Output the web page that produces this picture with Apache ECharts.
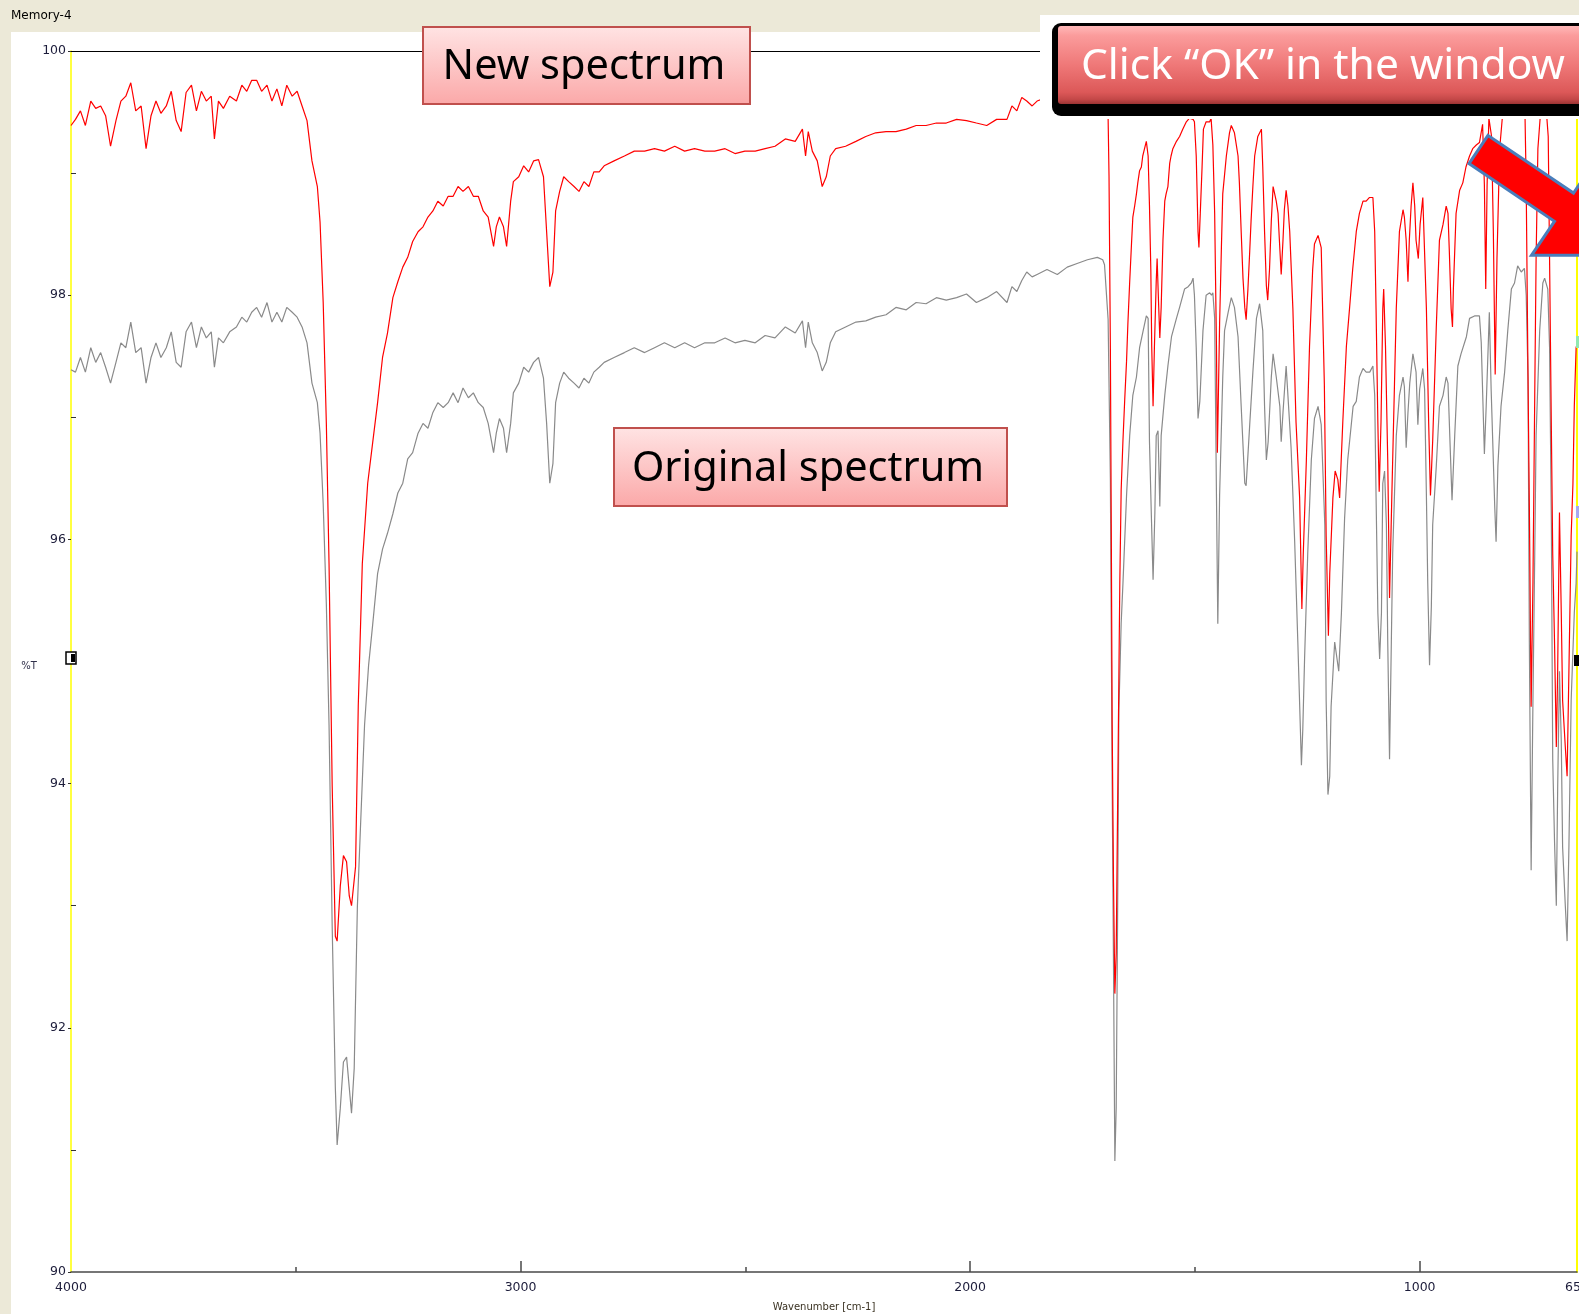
<!DOCTYPE html>
<html>
<head>
<meta charset="utf-8">
<script src="https://cdn.jsdelivr.net/npm/echarts@6/dist/echarts.min.js"></script>
<style>
html,body{margin:0;padding:0;background:#fff;}
#chart{width:1579px;height:1314px;}
</style>
</head>
<body>
<div id="chart"></div>
<script>
// ---- data (wavenumber cm-1, %T) ----
const originalSpectrum = [
[4000,97.39],[3990,97.37],[3979,97.49],[3968,97.37],[3956,97.57],[3945,97.45],[3934,97.53],[3923,97.41],[3912,97.28],[3900,97.45],[3889,97.61],[3878,97.57],[3867,97.78],[3856,97.53],[3844,97.57],[3833,97.28],[3822,97.49],[3811,97.61],[3800,97.49],[3788,97.57],[3777,97.70],[3766,97.45],[3755,97.41],[3744,97.70],[3732,97.78],[3721,97.57],[3710,97.74],[3699,97.65],[3688,97.70],[3681,97.41],[3672,97.65],[3661,97.61],[3647,97.70],[3632,97.74],[3620,97.82],[3609,97.78],[3598,97.86],[3587,97.90],[3576,97.82],[3564,97.94],[3553,97.78],[3542,97.86],[3531,97.78],[3520,97.90],[3508,97.86],[3497,97.82],[3486,97.74],[3475,97.61],[3464,97.28],[3452,97.12],[3446,96.87],[3439,96.29],[3432,95.47],[3426,94.48],[3419,92.83],[3412,91.51],[3408,91.04],[3401,91.34],[3394,91.72],[3387,91.76],[3381,91.51],[3376,91.30],[3370,91.67],[3363,92.99],[3356,93.65],[3347,94.48],[3338,94.97],[3329,95.30],[3318,95.72],[3307,95.92],[3296,96.05],[3284,96.21],[3273,96.38],[3262,96.46],[3251,96.66],[3240,96.71],[3228,96.87],[3217,96.95],[3206,96.91],[3195,97.04],[3184,97.12],[3172,97.08],[3161,97.12],[3150,97.20],[3139,97.12],[3128,97.24],[3116,97.16],[3105,97.20],[3094,97.12],[3083,97.08],[3072,96.95],[3060,96.71],[3054,96.87],[3047,96.99],[3038,96.91],[3031,96.71],[3022,96.95],[3016,97.20],[3004,97.28],[2993,97.41],[2982,97.37],[2971,97.45],[2960,97.49],[2949,97.32],[2942,96.95],[2935,96.46],[2928,96.62],[2922,97.12],[2913,97.28],[2904,97.37],[2893,97.32],[2881,97.28],[2870,97.24],[2859,97.32],[2848,97.28],[2837,97.37],[2825,97.41],[2814,97.45],[2792,97.49],[2769,97.53],[2747,97.57],[2724,97.53],[2702,97.57],[2680,97.61],[2657,97.57],[2635,97.61],[2613,97.57],[2590,97.61],[2568,97.61],[2545,97.65],[2523,97.61],[2501,97.63],[2478,97.61],[2456,97.67],[2434,97.65],[2411,97.74],[2389,97.69],[2373,97.79],[2366,97.57],[2360,97.78],[2351,97.61],[2340,97.53],[2329,97.38],[2320,97.45],[2311,97.61],[2299,97.70],[2277,97.74],[2254,97.78],[2232,97.79],[2210,97.82],[2187,97.84],[2165,97.90],[2142,97.88],[2120,97.94],[2098,97.93],[2075,97.98],[2053,97.96],[2030,97.98],[2008,98.01],[1986,97.94],[1963,97.98],[1941,98.03],[1918,97.94],[1907,98.07],[1896,98.03],[1885,98.12],[1874,98.19],[1862,98.15],[1851,98.17],[1829,98.21],[1806,98.17],[1784,98.23],[1762,98.26],[1739,98.29],[1717,98.31],[1705,98.29],
[1701,98.25],[1693,97.80],[1688,96.5],[1684,94.0],[1681,92.5],[1678,90.91],[1675,91.35],[1672,92.85],[1669,94.6],[1664,95.31],[1660,95.64],[1652,96.36],[1645,96.85],[1638,97.18],[1630,97.33],[1623,97.57],[1615,97.71],[1608,97.83],[1604,97.81],[1601,96.80],[1597,96.22],[1593,95.67],[1589,96.22],[1586,96.85],[1582,96.89],[1578,96.27],[1575,96.85],[1567,97.18],[1560,97.42],[1552,97.66],[1541,97.81],[1534,97.90],[1523,98.05],[1515,98.07],[1508,98.10],[1504,98.14],[1501,98.0],[1497,97.57],[1493,96.99],[1489,97.13],[1482,97.71],[1475,98.0],[1467,98.02],[1463,98.0],[1460,98.02],[1456,97.81],[1452,96.36],[1449,95.31],[1445,96.36],[1438,97.33],[1434,97.71],[1426,97.86],[1419,97.98],[1412,97.90],[1404,97.66],[1397,97.09],[1389,96.46],[1386,96.44],[1378,96.94],[1371,97.37],[1363,97.81],[1356,97.93],[1349,97.71],[1345,97.09],[1341,96.65],[1337,96.80],[1330,97.33],[1326,97.52],[1319,97.33],[1311,97.09],[1308,96.80],[1304,97.04],[1297,97.42],[1293,97.42],[1286,96.75],[1278,95.98],[1271,95.16],[1263,94.15],[1260,94.44],[1256,95.02],[1249,95.88],[1241,96.65],[1234,96.99],[1226,97.09],[1219,96.94],[1211,96.12],[1208,94.68],[1204,93.91],[1200,94.06],[1197,94.63],[1189,95.16],[1186,95.16],[1180,94.92],[1174,95.40],[1167,96.17],[1160,96.65],[1148,97.09],[1141,97.13],[1134,97.33],[1126,97.40],[1119,97.37],[1111,97.37],[1104,97.42],[1100,97.18],[1097,96.36],[1093,95.40],[1089,95.02],[1085,95.40],[1082,96.46],[1078,96.56],[1074,96.12],[1071,95.16],[1067,94.20],[1063,95.16],[1060,95.88],[1052,96.85],[1045,97.18],[1037,97.33],[1034,97.25],[1030,96.75],[1026,97.04],[1022,97.28],[1015,97.52],[1008,97.37],[1004,96.94],[1000,97.23],[993,97.40],[989,97.23],[985,96.36],[982,95.64],[978,94.97],[974,95.45],[971,96.12],[963,96.60],[956,97.09],[948,97.18],[941,97.33],[937,97.28],[933,96.85],[928,96.32],[922,96.85],[915,97.42],[908,97.52],[896,97.66],[889,97.81],[878,97.83],[867,97.83],[863,97.61],[856,96.70],[852,97.09],[845,97.86],[841,97.23],[833,96.27],[830,95.98],[826,96.60],[819,97.09],[811,97.37],[804,97.71],[796,98.05],[789,98.10],[782,98.24],[774,98.19],[767,98.22],[763,98.0],[759,97.33],[756,95.16],[752,93.29],[748,94.68],[744,95.88],[741,96.85],[733,97.71],[726,98.10],[722,98.14],[715,98.05],[711,97.57],[707,96.12],[704,94.20],[700,93.53],[696,93.0],[693,93.96],[689,94.92],[685,94.35],[682,93.48],[676,93.0],[672,92.71],[668,93.48],[663,94.68],[656,95.40],[652,95.64],[650,95.9]
];

const newSpectrum = [
[4000,99.39],[3990,99.44],[3979,99.51],[3968,99.39],[3956,99.59],[3945,99.53],[3934,99.55],[3923,99.47],[3912,99.22],[3900,99.43],[3889,99.59],[3878,99.63],[3867,99.74],[3856,99.51],[3844,99.55],[3833,99.20],[3822,99.47],[3811,99.59],[3800,99.49],[3788,99.55],[3777,99.67],[3766,99.43],[3755,99.34],[3744,99.66],[3732,99.72],[3721,99.51],[3710,99.67],[3699,99.59],[3688,99.63],[3681,99.28],[3672,99.59],[3661,99.53],[3647,99.63],[3632,99.59],[3620,99.72],[3609,99.67],[3598,99.76],[3587,99.76],[3576,99.67],[3564,99.72],[3553,99.59],[3542,99.69],[3531,99.55],[3520,99.72],[3508,99.63],[3497,99.67],[3486,99.55],[3475,99.43],[3464,99.10],[3452,98.89],[3446,98.60],[3439,97.94],[3432,96.95],[3426,95.80],[3419,93.98],[3412,92.75],[3408,92.71],[3401,93.16],[3394,93.41],[3387,93.36],[3381,93.08],[3376,93.0],[3367,93.32],[3361,94.64],[3352,95.80],[3340,96.46],[3329,96.79],[3318,97.12],[3307,97.49],[3296,97.69],[3284,97.98],[3273,98.11],[3262,98.23],[3251,98.31],[3240,98.44],[3228,98.52],[3217,98.56],[3206,98.64],[3195,98.69],[3184,98.77],[3172,98.73],[3161,98.81],[3150,98.81],[3139,98.89],[3128,98.85],[3116,98.89],[3105,98.81],[3094,98.81],[3083,98.69],[3072,98.64],[3060,98.40],[3054,98.56],[3047,98.64],[3038,98.56],[3031,98.40],[3022,98.77],[3016,98.93],[3004,98.97],[2993,99.06],[2982,99.01],[2971,99.10],[2960,99.11],[2949,98.97],[2942,98.52],[2935,98.07],[2928,98.19],[2922,98.69],[2913,98.85],[2904,98.97],[2893,98.93],[2881,98.89],[2870,98.85],[2859,98.93],[2848,98.89],[2837,99.01],[2825,99.01],[2814,99.06],[2792,99.10],[2769,99.14],[2747,99.18],[2724,99.18],[2702,99.20],[2680,99.18],[2657,99.22],[2635,99.18],[2613,99.20],[2590,99.18],[2568,99.18],[2545,99.20],[2523,99.16],[2501,99.18],[2478,99.18],[2456,99.20],[2434,99.22],[2411,99.28],[2389,99.26],[2373,99.36],[2366,99.14],[2360,99.34],[2351,99.18],[2340,99.10],[2329,98.89],[2320,98.97],[2311,99.14],[2299,99.20],[2277,99.22],[2254,99.26],[2232,99.30],[2210,99.33],[2187,99.34],[2165,99.34],[2142,99.36],[2120,99.39],[2098,99.39],[2075,99.41],[2053,99.41],[2030,99.44],[2008,99.43],[1986,99.41],[1963,99.39],[1941,99.44],[1918,99.44],[1907,99.55],[1896,99.51],[1885,99.62],[1874,99.59],[1862,99.55],[1851,99.59],[1829,99.62],[1806,99.60],[1784,99.64],[1762,99.63],[1739,99.66],[1717,99.62],[1700,99.55],
[1693,99.45],[1691,98.98],[1688,97.58],[1686,96.12],[1684,94.49],[1681,93.19],[1678,92.28],[1675,92.61],[1671,94.15],[1667,95.64],[1664,96.4],[1660,96.81],[1656,97.15],[1652,97.46],[1649,97.77],[1645,98.11],[1641,98.42],[1638,98.64],[1634,98.73],[1630,98.83],[1627,98.92],[1623,99.02],[1619,99.05],[1616,99.14],[1612,99.20],[1608,99.26],[1604,99.14],[1601,98.73],[1598,98.21],[1596,97.58],[1593,97.09],[1590,97.58],[1586,98.11],[1584,98.30],[1581,97.96],[1578,97.65],[1575,97.90],[1571,98.45],[1567,98.77],[1564,98.83],[1560,98.89],[1556,99.08],[1553,99.14],[1549,99.20],[1541,99.26],[1534,99.30],[1527,99.36],[1519,99.42],[1512,99.45],[1504,99.44],[1501,99.42],[1497,99.14],[1493,98.52],[1491,98.39],[1488,98.67],[1484,99.05],[1481,99.36],[1475,99.42],[1467,99.42],[1464,99.45],[1460,99.23],[1456,98.67],[1452,97.58],[1450,96.71],[1448,97.12],[1445,97.77],[1441,98.39],[1438,98.83],[1430,99.14],[1423,99.33],[1419,99.39],[1412,99.33],[1404,99.14],[1401,98.92],[1397,98.52],[1393,98.14],[1389,97.90],[1386,97.80],[1382,98.05],[1378,98.36],[1375,98.61],[1371,98.89],[1367,99.14],[1360,99.30],[1352,99.36],[1349,99.05],[1345,98.52],[1341,98.08],[1338,97.96],[1334,98.21],[1330,98.61],[1326,98.89],[1319,98.77],[1315,98.67],[1312,98.45],[1308,98.17],[1304,98.45],[1301,98.70],[1297,98.86],[1293,98.73],[1289,98.52],[1282,97.89],[1275,96.96],[1267,96.34],[1262,95.43],[1259,95.87],[1252,96.65],[1245,97.58],[1238,98.21],[1234,98.42],[1226,98.49],[1219,98.39],[1212,97.27],[1208,96.03],[1203,95.21],[1200,95.72],[1193,96.34],[1188,96.56],[1182,96.49],[1178,96.34],[1171,96.96],[1163,97.58],[1156,97.89],[1149,98.21],[1141,98.52],[1134,98.67],[1126,98.77],[1119,98.77],[1112,98.80],[1104,98.80],[1100,98.52],[1097,97.89],[1093,96.96],[1090,96.39],[1086,96.96],[1082,97.89],[1080,98.05],[1076,97.58],[1071,96.65],[1067,95.52],[1062,96.34],[1056,97.27],[1052,97.89],[1045,98.52],[1037,98.70],[1034,98.64],[1030,98.45],[1026,98.11],[1023,98.45],[1019,98.73],[1015,98.92],[1011,98.73],[1008,98.45],[1003,98.30],[999,98.58],[993,98.80],[985,97.89],[980,96.96],[976,96.36],[971,96.81],[963,97.74],[956,98.45],[948,98.58],[941,98.73],[937,98.67],[934,98.36],[930,97.89],[927,97.74],[925,98.05],[919,98.67],[911,98.86],[904,98.92],[897,99.05],[889,99.14],[882,99.20],[874,99.23],[867,99.25],[860,99.40],[856,98.90],[853,98.05],[850,98.90],[846,99.45],[840,99.30],[836,98.50],[832,97.35],[828,98.30],[822,99.20],[815,99.50],[805,99.60],[795,99.65],[785,99.60],[775,99.65],[766,99.55],[763,98.90],[759,97.33],[756,96.27],[752,94.63],[748,95.64],[744,97.18],[741,98.29],[737,99.20],[730,99.55],[720,99.60],[714,99.30],[711,98.29],[707,96.89],[704,95.88],[700,95.16],[696,94.30],[693,94.92],[689,96.22],[685,95.40],[682,94.68],[676,94.30],[672,94.06],[668,94.92],[663,96.03],[659,96.46],[656,97.09],[652,97.57],[650,97.60]
];

const xLabelValues = [4000, 3000, 2000, 1000, 650];
const xMajorTicks = [3000, 2000, 1000];
const xMinorTicks = [3500, 2500, 1500];
const yMinorTicks = [91, 93, 95, 97, 99];

// ---- chart ----
const chart = echarts.init(document.getElementById('chart'), null, {renderer: 'canvas'});
const labelFont = 'DejaVu Sans';
const beige = '#ECE9D8';
const plain = v => String(v);

const option = {
  animation: false,
  backgroundColor: '#ffffff',
  grid: {left: 71, right: 2, top: 51, bottom: 42, containLabel: false, outerBoundsMode: 'none'},
  xAxis: [
    {
      type: 'value', position: 'bottom', inverse: true, min: 650, max: 4000,
      splitLine: {show: false},
      axisLine: {show: true, onZero: false, lineStyle: {color: '#4a4a4a', width: 1.5}},
      axisTick: {show: true, inside: true, length: 11, customValues: xMajorTicks, lineStyle: {color: '#4a4a4a', width: 1.5}},
      axisLabel: {show: true, customValues: xLabelValues, formatter: plain, margin: 9, fontFamily: labelFont, fontSize: 12.5, color: '#1c1c3a', hideOverlap: false},
      name: 'Wavenumber [cm-1]', nameLocation: 'middle', nameGap: 30,
      nameTextStyle: {fontFamily: labelFont, fontSize: 10, color: '#3a3222'}
    },
    {
      type: 'value', position: 'bottom', inverse: true, min: 650, max: 4000,
      splitLine: {show: false},
      axisLine: {show: false, onZero: false},
      axisTick: {show: true, inside: true, length: 5, customValues: xMinorTicks, lineStyle: {color: '#4a4a4a', width: 1.5}},
      axisLabel: {show: false}
    },
    {
      type: 'value', position: 'top', inverse: true, min: 650, max: 4000,
      splitLine: {show: false},
      axisLine: {show: true, onZero: false, lineStyle: {color: '#000000', width: 1}},
      axisTick: {show: false}, axisLabel: {show: false}
    }
  ],
  yAxis: [
    {
      type: 'value', position: 'left', min: 90, max: 100, interval: 2,
      splitLine: {show: false},
      axisLine: {show: true, onZero: false, lineStyle: {color: '#FFFF00', width: 1.5}},
      axisTick: {show: true, inside: false, length: 3, lineStyle: {color: '#333333', width: 1}},
      axisLabel: {show: true, formatter: plain, margin: 5, fontFamily: labelFont, fontSize: 12.5, color: '#1c1c3a'}
    },
    {
      type: 'value', position: 'left', min: 90, max: 100, interval: 1,
      splitLine: {show: false},
      axisLine: {show: false, onZero: false},
      axisTick: {show: true, inside: true, length: 5, customValues: yMinorTicks, lineStyle: {color: '#333333', width: 1}},
      axisLabel: {show: false}
    },
    {
      type: 'value', position: 'right', min: 90, max: 100,
      splitLine: {show: false},
      axisLine: {show: true, onZero: false, lineStyle: {color: '#FFFF00', width: 2}},
      axisTick: {show: false}, axisLabel: {show: false}
    }
  ],
  series: [
    {
      name: 'Original spectrum', type: 'line', xAxisIndex: 0, yAxisIndex: 0,
      data: originalSpectrum, showSymbol: false, symbol: 'none', smooth: false,
      lineStyle: {color: '#8a8a8a', width: 1.2}, z: 3
    },
    {
      name: 'New spectrum', type: 'line', xAxisIndex: 0, yAxisIndex: 0,
      data: newSpectrum, showSymbol: false, symbol: 'none', smooth: false,
      lineStyle: {color: '#ff0000', width: 1.2}, z: 4
    }
  ],
  graphic: {
    elements: [
      // window frame (beige)
      {type: 'rect', shape: {x: 0, y: 0, width: 11, height: 1314}, style: {fill: beige}, z: 50, silent: true},
      {type: 'rect', shape: {x: 0, y: 0, width: 1040, height: 32}, style: {fill: beige}, z: 50, silent: true},
      {type: 'rect', shape: {x: 1040, y: 0, width: 539, height: 15}, style: {fill: beige}, z: 50, silent: true},
      {type: 'text', style: {text: 'Memory-4', x: 11, y: 16, font: '12px "DejaVu Sans"', fill: '#000', textVerticalAlign: 'middle'}, z: 51},
      {type: 'text', style: {text: '%T', x: 29, y: 666, font: '10px "DejaVu Sans"', fill: '#30304a', textAlign: 'center', textVerticalAlign: 'middle'}, z: 51},
      // cursor markers
      {type: 'rect', shape: {x: 66, y: 652, width: 10, height: 12}, style: {fill: '#fff', stroke: '#000', lineWidth: 1.5}, z: 52},
      {type: 'rect', shape: {x: 71, y: 654, width: 4, height: 8}, style: {fill: '#000'}, z: 53},
      {type: 'rect', shape: {x: 1574, y: 655, width: 5, height: 11}, style: {fill: '#000'}, z: 52},
      {type: 'rect', shape: {x: 1576, y: 336, width: 3, height: 12}, style: {fill: '#90e8b0'}, z: 52},
      {type: 'rect', shape: {x: 1576, y: 506, width: 3, height: 12}, style: {fill: '#a8a8f0'}, z: 52},
      // white area behind the callout
      {type: 'rect', shape: {x: 1040, y: 15, width: 539, height: 104}, style: {fill: '#ffffff'}, z: 100},
      // Click OK callout
      {type: 'rect', shape: {x: 1052, y: 23, width: 560, height: 93, r: 9}, style: {fill: '#000000'}, z: 101},
      {type: 'rect', shape: {x: 1058, y: 26, width: 540, height: 78, r: 3},
        style: {fill: {type: 'linear', x: 0, y: 0, x2: 0, y2: 1, colorStops: [
          {offset: 0, color: '#ffb8b8'}, {offset: 0.12, color: '#fb9c9c'}, {offset: 0.5, color: '#ef7878'},
          {offset: 0.85, color: '#dc5858'}, {offset: 0.94, color: '#c44848'}, {offset: 1, color: '#9c3434'}]}}, z: 102},
      {type: 'text', style: {text: 'Click \u201cOK\u201d in the window', x: 1081, y: 67, font: '42.5px "Noto Sans"', fill: '#ffffff', textVerticalAlign: 'middle'}, z: 103},
      // New spectrum label
      {type: 'rect', shape: {x: 423, y: 27, width: 327, height: 77},
        style: {fill: {type: 'linear', x: 0, y: 0, x2: 0, y2: 1, colorStops: [
          {offset: 0, color: '#ffe4e4'}, {offset: 1, color: '#fba8a8'}]}, stroke: '#c0504d', lineWidth: 2}, z: 101},
      {type: 'text', style: {text: 'New spectrum', x: 584, y: 67, font: '41.5px "Noto Sans"', fill: '#000000', textAlign: 'center', textVerticalAlign: 'middle'}, z: 103},
      // Original spectrum label
      {type: 'rect', shape: {x: 614, y: 428, width: 393, height: 78},
        style: {fill: {type: 'linear', x: 0, y: 0, x2: 0, y2: 1, colorStops: [
          {offset: 0, color: '#ffe4e4'}, {offset: 1, color: '#fba8a8'}]}, stroke: '#c0504d', lineWidth: 2}, z: 101},
      {type: 'text', style: {text: 'Original spectrum', x: 808, y: 469, font: '41.5px "Noto Sans"', fill: '#000000', textAlign: 'center', textVerticalAlign: 'middle'}, z: 103},
      // red arrow
      {type: 'polygon', shape: {points: [[1488, 135.4], [1573.5, 193.1], [1596.5, 159.1], [1635.4, 255.3], [1531.5, 255.3], [1554.5, 221.3], [1469, 163.6]]},
        style: {fill: '#ff0000', stroke: '#4a7ebb', lineWidth: 3, lineJoin: 'miter'}, z: 110}
    ]
  }
};
chart.setOption(option);
</script>
</body>
</html>
